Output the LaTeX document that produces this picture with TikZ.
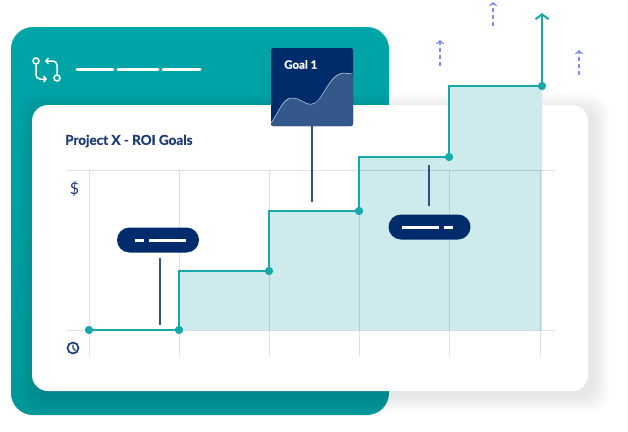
\documentclass[tikz,border=0pt]{standalone}
\usepackage{fontspec}
\setmainfont{Lato}[BoldFeatures={FakeBold=0.8}]
\usetikzlibrary{arrows.meta,positioning,shapes}
\definecolor{tealtop}{HTML}{00A5A7}
\definecolor{tealbot}{HTML}{00979A}
\definecolor{tealline}{HTML}{17A9AA}
\definecolor{tealfill}{HTML}{CDEBEC}
\definecolor{navy}{HTML}{002C6C}
\definecolor{ink}{HTML}{1E3C78}
\definecolor{wave}{HTML}{34588A}
\definecolor{stem}{HTML}{2F4F86}
\definecolor{hintc}{HTML}{7F8BF0}
\tikzstyle{pill} = [rectangle, fill=navy, rounded corners=12.5pt,
    minimum width=82pt, minimum height=25pt, inner sep=0pt]
\tikzstyle{goalbox} = [rectangle, fill=navy, rounded corners=2pt,
    minimum width=82pt, minimum height=78pt, inner sep=0pt]
\tikzstyle{dot} = [circle, fill=tealline, inner sep=0pt, minimum size=8pt]
\tikzstyle{gridline} = [draw=black, opacity=0.12, line width=1pt]
\tikzstyle{stemline} = [draw=stem, line width=1.2pt]
\tikzstyle{whitedash} = [draw=white, line width=3pt, line cap=round]
\tikzstyle{hintarrow} = [draw=hintc, dashed, dash pattern=on 4pt off 3pt,
    line width=1.2pt, -{Straight Barb[length=3pt,width=7pt]}]

\begin{document}
\begin{tikzpicture}[x=1pt,y=-1pt]
  \useasboundingbox (0,0) rectangle (628,431);
  % back panel
  \shade[top color=tealtop, bottom color=tealbot, rounded corners=22pt]
      (11,27) rectangle (389,415);
  % shadow and card
  \foreach \s in {2,4,...,16}
    \fill[black, opacity=0.012, rounded corners=18pt]
      ({32-\s+5},{105-\s+5}) rectangle ({588+\s+5},{391+\s+5});
  \fill[white, rounded corners=16pt] (32,105) rectangle (588,391);

  % header icon and dashes
  \draw[white, line width=1.5pt] (36,61) circle (3pt) (57,78) circle (3pt);
  \draw[white, line width=1.5pt, rounded corners=4pt,
        -{Straight Barb[length=2.5pt,width=6pt]}] (36,64.5) |- (47,79);
  \draw[white, line width=1.5pt, rounded corners=4pt,
        -{Straight Barb[length=2.5pt,width=6pt]}] (57,74.5) |- (45,61);
  \draw[whitedash] (77,69) -- (113,69)  (118,69) -- (158,69)  (163,69) -- (200,69);

  % area under the steps
  \fill[tealfill] (179,330) |- (269,272) |- (359,211) |- (449,157)
      |- (542,87) -- (542,330) -- cycle;

  % grid
  \draw[gridline] (66,170) -- (555,170)  (66,330) -- (555,330);
  \foreach \x in {89,179,269,359,449,540}
    \draw[gridline] (\x,170) -- (\x,356);

  \node[text=ink, font=\bfseries\fontsize{13.5}{16}\selectfont, anchor=west,
        inner sep=0pt] (title) at (65,141) {Project X - ROI Goals};
  \node[text=ink, font=\fontsize{16}{18}\selectfont, inner sep=0pt]
      (dollar) at (74.5,188.5) {\$};
  \draw[ink, line width=1.7pt] (73,348) circle (5.5pt);
  \draw[ink, line width=1.4pt] (73,344.5) -- (73,348) -- (75.5,350.5);

  % steps
  \node[dot] (p0) at (89,330) {};
  \node[dot] (p1) at (179,330) {};
  \node[dot] (p2) at (269,271) {};
  \node[dot] (p3) at (359,211) {};
  \node[dot] (p4) at (449,157) {};
  \node[dot] (p5) at (542,86) {};
  \coordinate (top) at (542,13);
  \draw[tealline, line width=2pt] (p0.center) -- (p1.center) |- (p2.center)
      |- (p3.center) |- (p4.center) |- (p5.center);
  \draw[tealline, line width=2pt, -{Straight Barb[length=5pt,width=13pt]}]
      (p5.center) -- (top);
  \node[dot] at (p0) {};
  \node[dot] at (p1) {};
  \node[dot] at (p2) {};
  \node[dot] at (p3) {};
  \node[dot] at (p4) {};
  \node[dot] at (p5) {};

  % goal card
  \node[goalbox] (goal) at (312,87) {};
  \fill[wave, rounded corners=2pt] (271,126) -- (271,123)
      .. controls (279,112) and (283,98) .. (292,98)
      .. controls (301,98) and (304,105) .. (312,104)
      .. controls (323,103) and (328,74) .. (344,73)
      -- (353,74) -- (353,126) -- cycle;
  \draw[white, opacity=0.8, line width=0.5pt] (271,123)
      .. controls (279,112) and (283,98) .. (292,98)
      .. controls (301,98) and (304,105) .. (312,104)
      .. controls (323,103) and (328,74) .. (344,73) -- (353,74);
  \node[text=white, font=\bfseries\fontsize{11.5}{13}\selectfont, anchor=west,
        inner sep=0pt] (goaltext) at (284,64.5) {Goal 1};
  \coordinate (gl) at (312,202);
  \draw[stemline] (goal.south) -- (gl);

  % markers
  \node[pill] (pa) at (158,240) {};
  \draw[whitedash, line cap=butt] (135,240) -- (144,240)  (149,240) -- (186,240);
  \coordinate (pa1) at (160,258);
  \coordinate (pa2) at (160,325);
  \draw[stemline] (pa1) -- (pa2);

  \node[pill] (pb) at (429.5,227) {};
  \draw[whitedash, line cap=butt] (402,227) -- (439,227)  (444,227) -- (453,227);
  \coordinate (pb1) at (429,165);
  \coordinate (pb2) at (429,206);
  \draw[stemline] (pb1) -- (pb2);

  % hints
  \foreach \x/\a/\b in {440/66/40, 493/26/2, 579/75/50}
    \draw[hintarrow] (\x,\a) -- (\x,\b);
\end{tikzpicture}
\end{document}
